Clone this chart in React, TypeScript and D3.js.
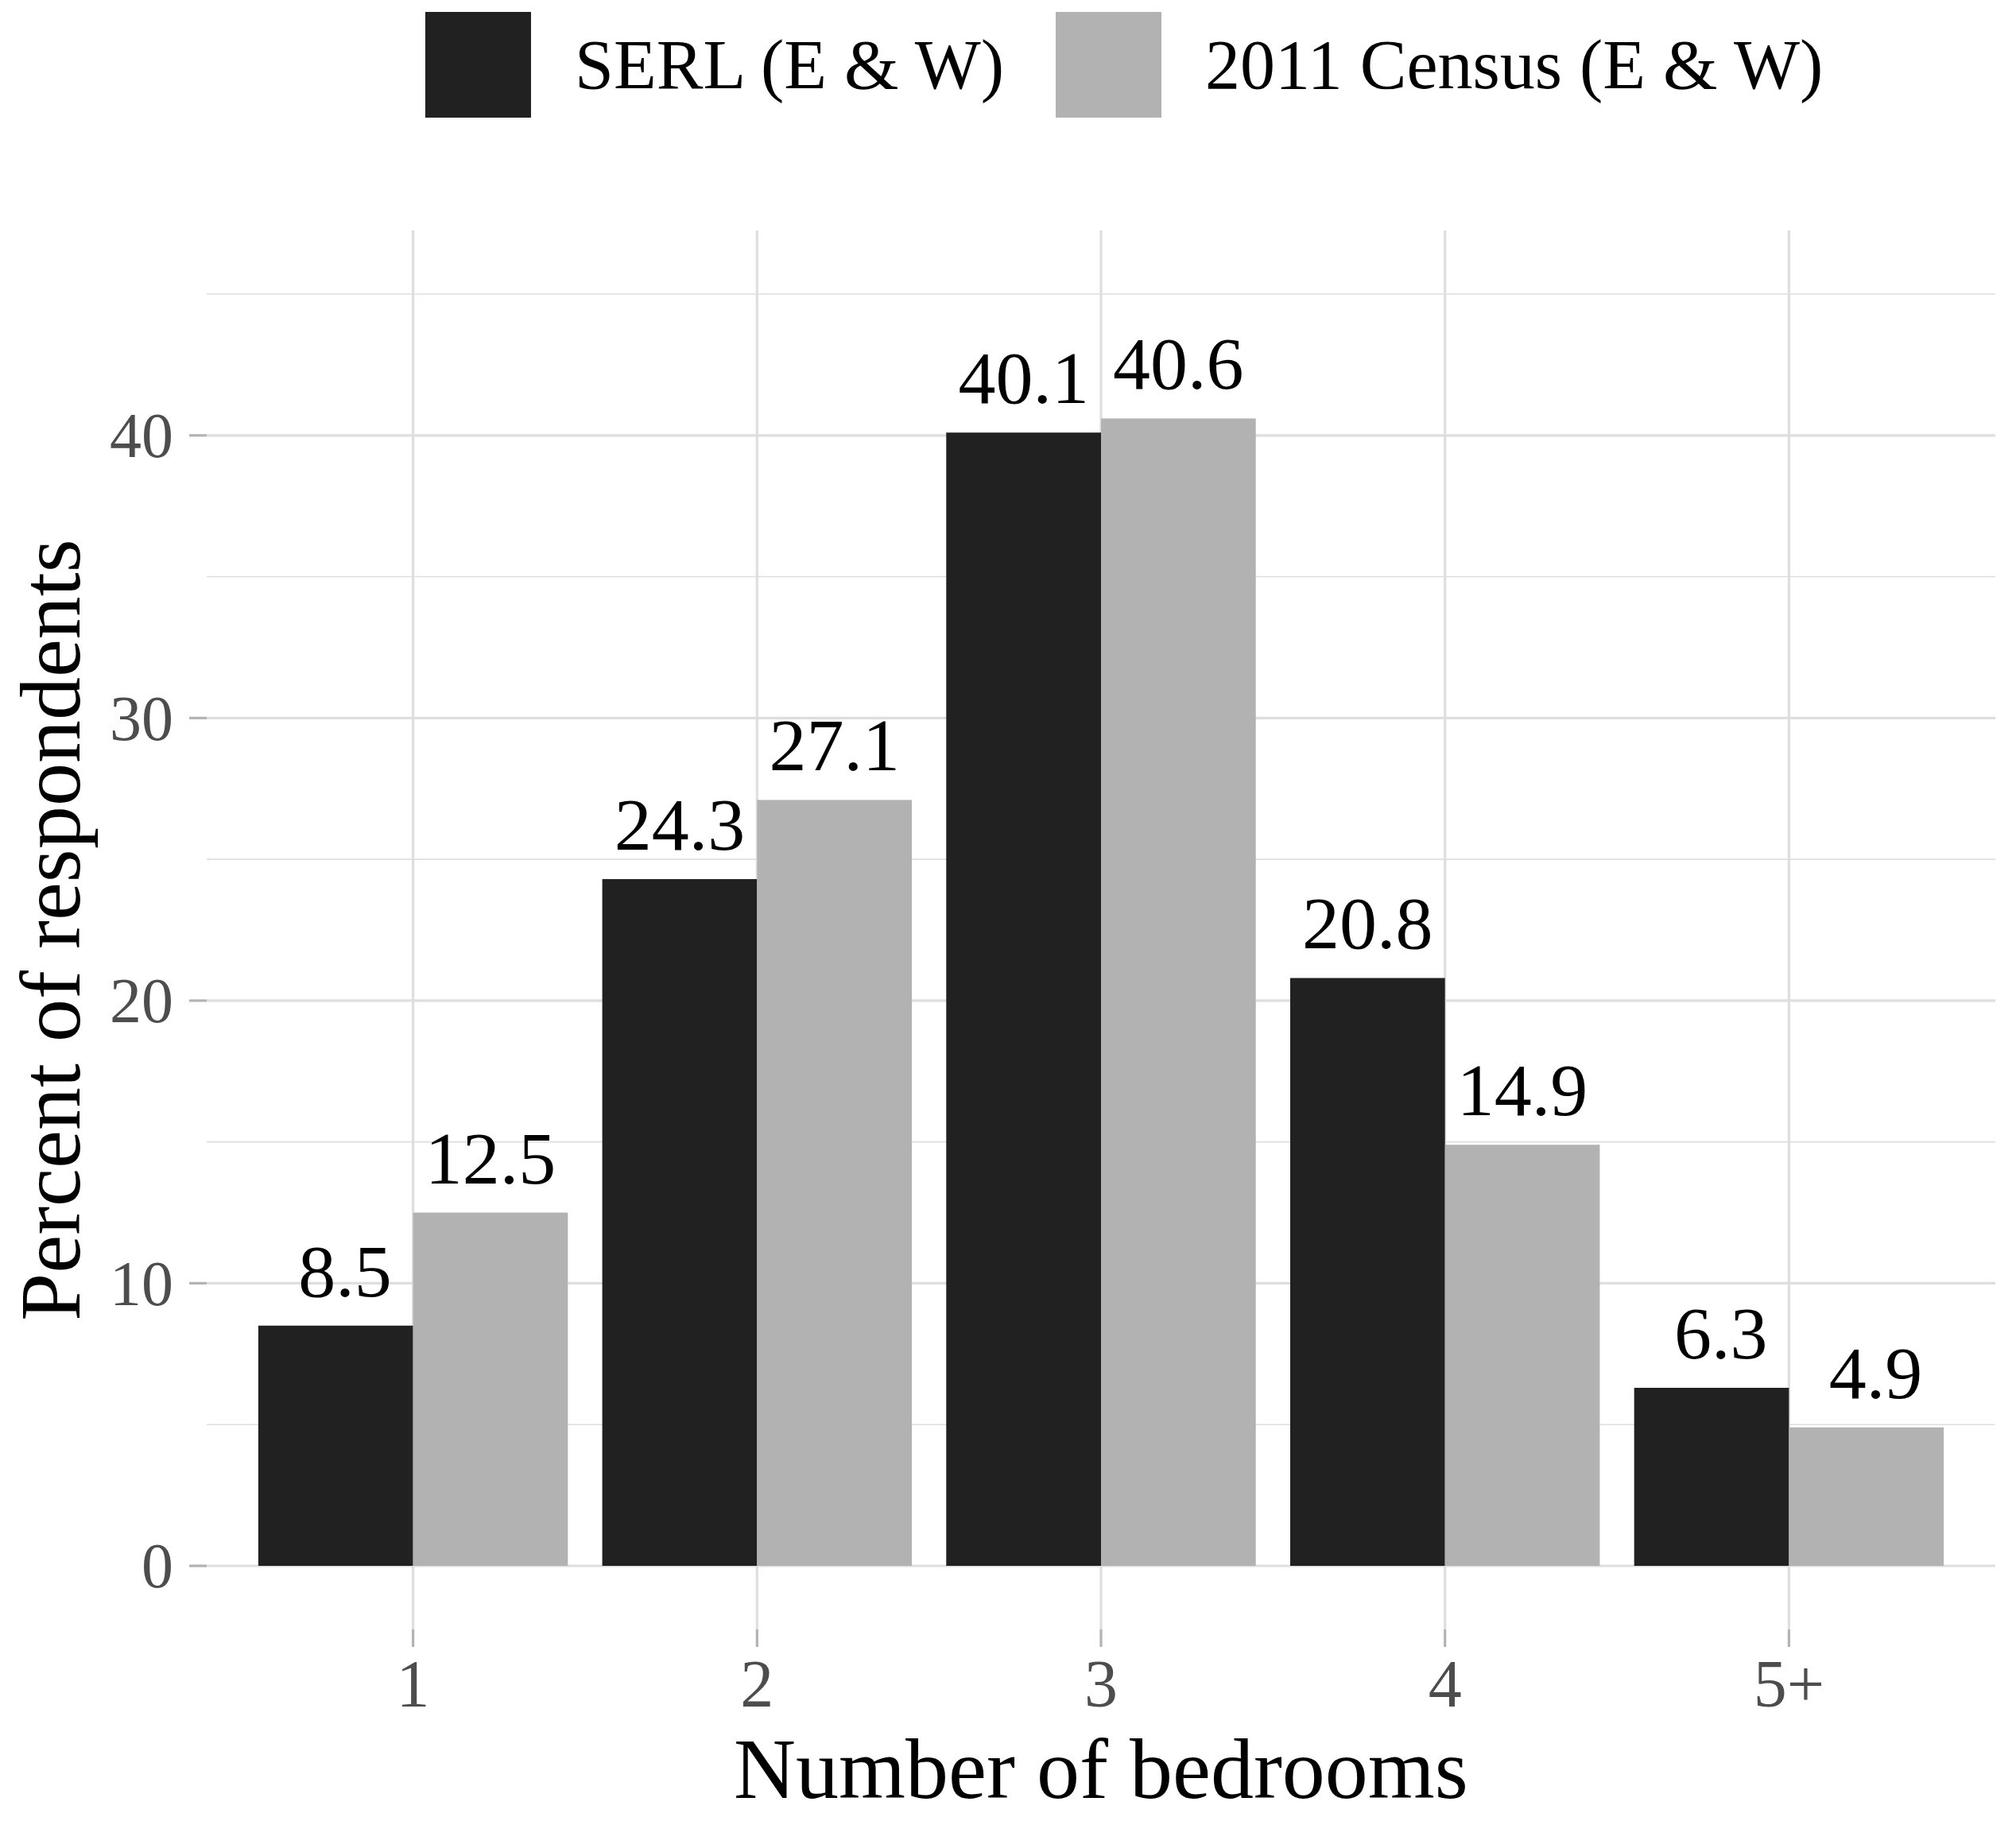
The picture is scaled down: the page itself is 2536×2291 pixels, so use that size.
import * as d3 from "d3";

const categories = ["1", "2", "3", "4", "5+"];
const seriesNames = ["SERL (E & W)", "2011 Census (E & W)"];
const serlValues = [8.5, 24.3, 40.1, 20.8, 6.3];
const censusValues = [12.5, 27.1, 40.6, 14.9, 4.9];
const majorTicks = [0, 10, 20, 30, 40];
const minorTicks = [5, 15, 25, 35, 45];
const fills = ["#212121", "#b2b2b2"];

const width = 2536;
const height = 2291;
const panel = { left: 260, right: 2510, top: 290, bottom: 2050 };
const font = "'Liberation Serif', 'Times New Roman', serif";
const gridColor = "#dedede";
const tickColor = "#b3b3b3";

export default function App() {
    const x = d3
        .scaleBand<string>()
        .domain(categories)
        .range([panel.left, panel.right])
        .paddingInner(0.1)
        .paddingOuter(0.15);
    const xSub = d3.scaleBand<string>().domain(seriesNames).range([0, x.bandwidth()]);
    const y = d3.scaleLinear().domain([-2.25, 47.25]).range([panel.bottom, panel.top]);
    const center = (c: string) => (x(c) as number) + x.bandwidth() / 2;
    // labels padded to width 4, like sprintf("%4.1f"), so single digits sit a little right
    const fmt = d3.format("4.1f");

    const series = [serlValues, censusValues];

    return (
        <div style={{ position: "absolute", left: 0, top: 0 }}>
            <svg width={width} height={height} style={{ display: "block", background: "#fff" }} fontFamily={font}>
                {/* grid */}
                {minorTicks.map(t => (
                    <line key={"mi" + t} x1={panel.left} x2={panel.right} y1={y(t)} y2={y(t)} stroke={gridColor} strokeWidth={1.6} />
                ))}
                {majorTicks.map(t => (
                    <line key={"ma" + t} x1={panel.left} x2={panel.right} y1={y(t)} y2={y(t)} stroke={gridColor} strokeWidth={3.2} />
                ))}
                {categories.map(c => (
                    <line key={"v" + c} x1={center(c)} x2={center(c)} y1={panel.top} y2={panel.bottom} stroke={gridColor} strokeWidth={3.2} />
                ))}

                {/* bars */}
                {series.map((vals, si) =>
                    vals.map((v, i) => (
                        <rect
                            key={si + "-" + i}
                            x={(x(categories[i]) as number) + (xSub(seriesNames[si]) as number)}
                            y={y(v)}
                            width={xSub.bandwidth()}
                            height={y(0) - y(v)}
                            fill={fills[si]}
                        />
                    ))
                )}

                {/* bar labels */}
                {series.map((vals, si) =>
                    vals.map((v, i) => (
                        <text
                            key={"l" + si + "-" + i}
                            x={(x(categories[i]) as number) + (xSub(seriesNames[si]) as number) + xSub.bandwidth() / 2}
                            y={y(v) - 37}
                            textAnchor="middle"
                            fontSize={94}
                            fill="#000"
                            style={{ whiteSpace: "pre" }}
                        >
                            {fmt(v)}
                        </text>
                    ))
                )}

                {/* y axis */}
                {majorTicks.map(t => (
                    <g key={"yt" + t}>
                        <line x1={238} x2={panel.left} y1={y(t)} y2={y(t)} stroke={tickColor} strokeWidth={3.2} />
                        <text x={218} y={y(t)} dy="0.34em" textAnchor="end" fontSize={80} fill="#4d4d4d">
                            {t}
                        </text>
                    </g>
                ))}
                <text
                    transform={`translate(100, ${(panel.top + panel.bottom) / 2}) rotate(-90)`}
                    textAnchor="middle"
                    fontSize={108}
                    fill="#000"
                >
                    Percent of respondents
                </text>

                {/* x axis */}
                {categories.map(c => (
                    <g key={"xt" + c}>
                        <line x1={center(c)} x2={center(c)} y1={panel.bottom} y2={panel.bottom + 22} stroke={tickColor} strokeWidth={3.2} />
                        <text x={center(c)} y={2147} textAnchor="middle" fontSize={84} fill="#4d4d4d">
                            {c}
                        </text>
                    </g>
                ))}
                <text x={(panel.left + panel.right) / 2} y={2262} textAnchor="middle" fontSize={108} fill="#000">
                    Number of bedrooms
                </text>

                {/* legend */}
                {seriesNames.map((s, i) => {
                    const lx = [535, 1328][i];
                    return (
                        <g key={"lg" + s}>
                            <rect x={lx} y={15} width={133} height={133} fill={fills[i]} />
                            <text x={lx + 188} y={111} fontSize={88} fill="#000">
                                {s}
                            </text>
                        </g>
                    );
                })}
            </svg>
        </div>
    );
}
